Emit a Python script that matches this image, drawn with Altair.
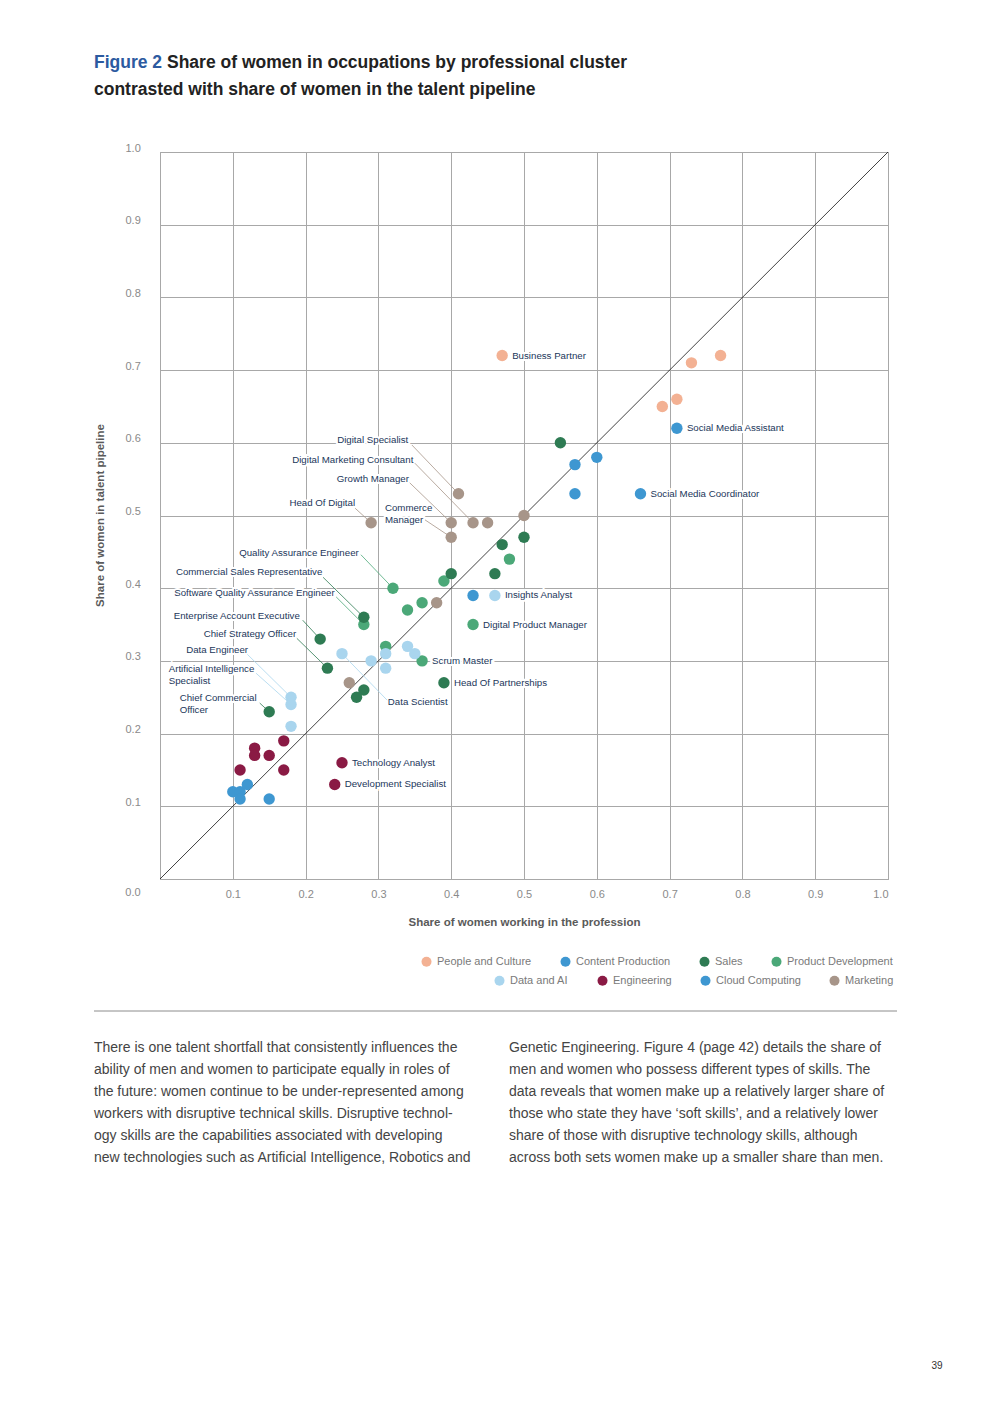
import altair as alt
import pandas as pd

FONT = "Liberation Sans"

# ---------------- data ----------------
clusters_row1 = ["People and Culture", "Content Production", "Sales", "Product Development"]
clusters_row2 = ["Data and AI", "Engineering", "Cloud Computing", "Marketing"]
colors_row1 = ["#F3B193", "#3E97D1", "#2E7B53", "#4BA878"]
colors_row2 = ["#A9D5EE", "#8A1A44", "#3E97D1", "#A79589"]

pc_x = [0.47, 0.73, 0.77, 0.69, 0.71]
pc_y = [0.72, 0.71, 0.72, 0.65, 0.66]
cp_x = [0.71, 0.66, 0.57, 0.60, 0.57]
cp_y = [0.62, 0.53, 0.57, 0.58, 0.53]
sales_x = [0.55, 0.47, 0.50, 0.46, 0.40, 0.28, 0.22, 0.23, 0.15, 0.39, 0.28, 0.27]
sales_y = [0.60, 0.46, 0.47, 0.42, 0.42, 0.36, 0.33, 0.29, 0.23, 0.27, 0.26, 0.25]
pd_x = [0.48, 0.39, 0.32, 0.36, 0.34, 0.28, 0.43, 0.31, 0.36]
pd_y = [0.44, 0.41, 0.40, 0.38, 0.37, 0.35, 0.35, 0.32, 0.30]
dai_x = [0.46, 0.25, 0.29, 0.31, 0.31, 0.34, 0.35, 0.18, 0.18, 0.18]
dai_y = [0.39, 0.31, 0.30, 0.31, 0.29, 0.32, 0.31, 0.25, 0.24, 0.21]
eng_x = [0.17, 0.13, 0.13, 0.15, 0.11, 0.17, 0.25, 0.24]
eng_y = [0.19, 0.18, 0.17, 0.17, 0.15, 0.15, 0.16, 0.13]
cc_x = [0.10, 0.11, 0.11, 0.12, 0.15, 0.43]
cc_y = [0.12, 0.12, 0.11, 0.13, 0.11, 0.39]
mk_x = [0.41, 0.29, 0.40, 0.43, 0.45, 0.40, 0.50, 0.38, 0.26]
mk_y = [0.53, 0.49, 0.49, 0.49, 0.49, 0.47, 0.50, 0.38, 0.27]

# labels placed directly to the right of their point
direct_names = ["Business Partner", "Social Media Assistant", "Social Media Coordinator",
                "Insights Analyst", "Digital Product Manager", "Scrum Master",
                "Head Of Partnerships", "Technology Analyst", "Development Specialist"]
direct_x = [0.47, 0.71, 0.66, 0.46, 0.43, 0.36, 0.39, 0.25, 0.24]
direct_y = [0.72, 0.62, 0.53, 0.39, 0.35, 0.30, 0.27, 0.16, 0.13]

# labels with leader lines
lead_text = ["Digital Specialist", "Digital Marketing Consultant", "Growth Manager",
             "Head Of Digital", "Commerce\nManager", "Quality Assurance Engineer",
             "Commercial Sales Representative", "Software Quality Assurance Engineer",
             "Enterprise Account Executive", "Chief Strategy Officer", "Data Engineer",
             "Artificial Intelligence\nSpecialist", "Chief Commercial\nOfficer", "Data Scientist"]
lead_cluster = ["Marketing", "Marketing", "Marketing", "Marketing", "Marketing",
                "Product Development", "Sales", "Product Development", "Sales", "Sales",
                "Data and AI", "Data and AI", "Sales", "Data and AI"]
lead_align = ["right", "right", "right", "right", "left", "right", "right", "right",
              "right", "right", "right", "left", "left", "left"]
lead_tx = [0.341, 0.348, 0.342, 0.268, 0.309, 0.273, 0.223, 0.240, 0.192, 0.187, 0.121, 0.012, 0.027, 0.313]
lead_ty = [0.604, 0.576, 0.550, 0.517, 0.510, 0.448, 0.422, 0.393, 0.362, 0.337, 0.315, 0.289, 0.249, 0.243]
lead_sx = [0.346, 0.350, 0.343, 0.268, 0.364, 0.276, 0.224, 0.242, 0.196, 0.188, 0.120, 0.132, 0.137, 0.312]
lead_sy = [0.597, 0.572, 0.545, 0.510, 0.494, 0.446, 0.415, 0.388, 0.356, 0.331, 0.309, 0.283, 0.242, 0.246]
lead_px = [0.41, 0.43, 0.40, 0.29, 0.40, 0.32, 0.28, 0.28, 0.22, 0.23, 0.18, 0.18, 0.15, 0.25]
lead_py = [0.53, 0.49, 0.49, 0.49, 0.47, 0.40, 0.36, 0.35, 0.33, 0.29, 0.25, 0.24, 0.23, 0.31]

tick_values = [0.0, 0.1, 0.2, 0.3, 0.4, 0.5, 0.6, 0.7, 0.8, 0.9, 1.0]

title_prefix = "Figure 2"
title_line1 = "Share of women in occupations by professional cluster"
title_line2 = "contrasted with share of women in the talent pipeline"
x_title = "Share of women working in the profession"
y_title = "Share of women in talent pipeline"

body_left = [
    "There is one talent shortfall that consistently influences the",
    "ability of men and women to participate equally in roles of",
    "the future: women continue to be under-represented among",
    "workers with disruptive  technical skills. Disruptive technol-",
    "ogy skills are the capabilities associated with developing",
    "new technologies such as Artificial Intelligence, Robotics and",
]
body_right = [
    "Genetic Engineering. Figure 4 (page 42) details the share of",
    "men and women who possess different types of skills. The",
    "data reveals that women make up a  relatively larger share of",
    "those who state they have \u2018soft skills\u2019, and a relatively lower",
    "share of those with disruptive technology skills, although",
    "across both sets women make up a smaller share than men.",
]
page_number = "39"

# ---------------- tables ----------------
def frame(name, xs, ys):
    return pd.DataFrame({"cluster": name, "x": xs, "y": ys})

df1 = pd.concat([frame("People and Culture", pc_x, pc_y),
                 frame("Content Production", cp_x, cp_y),
                 frame("Product Development", pd_x, pd_y),
                 frame("Sales", sales_x, sales_y)], ignore_index=True)
df2 = pd.concat([frame("Data and AI", dai_x, dai_y),
                 frame("Engineering", eng_x, eng_y),
                 frame("Cloud Computing", cc_x, cc_y),
                 frame("Marketing", mk_x, mk_y)], ignore_index=True)

color_map = dict(zip(clusters_row1 + clusters_row2, colors_row1 + colors_row2))

lead = pd.DataFrame({"label": lead_text, "cluster": lead_cluster, "align": lead_align,
                     "tx": lead_tx, "ty": lead_ty, "sx": lead_sx, "sy": lead_sy,
                     "px": lead_px, "py": lead_py})
lead["col"] = lead["cluster"].map(color_map)
lead_r = lead[lead["align"] == "right"]
lead_l = lead[lead["align"] == "left"]
direct = pd.DataFrame({"label": direct_names, "x": direct_x, "y": direct_y})
diag = pd.DataFrame({"x": [0.0], "y": [0.0], "x2": [1.0], "y2": [1.0]})
origin = pd.DataFrame({"x": [0.0], "y": [0.0], "t": ["0.0"]})

# ---------------- encodings ----------------
GRID = "#A8A8A8"
xscale = alt.Scale(domain=[0, 1], nice=False, zero=True)
yscale = alt.Scale(domain=[0, 1], nice=False, zero=True)

x_axis = alt.Axis(values=tick_values, format=".1f", grid=True, gridColor=GRID, gridWidth=1,
                  ticks=False, domainColor=GRID, labelColor="#8a8a8a", labelFont=FONT,
                  labelFontSize=11, labelPadding=9,
                  labelExpr="datum.value == 0 ? '' : datum.label",
                  title=x_title, titleFont=FONT, titleFontSize=11.5, titleFontWeight="bold",
                  titleColor="#5a5a5a", titleX=364, titleY=43, titleBaseline="middle")
y_axis = alt.Axis(values=tick_values, format=".1f", grid=True, gridColor=GRID, gridWidth=1,
                  ticks=False, domainColor=GRID, labelColor="#8a8a8a", labelFont=FONT,
                  labelFontSize=11, labelPadding=35, labelAlign="left", labelBaseline="middle",
                  labelOffset=-4, labelExpr="datum.value == 0 ? '' : datum.label",
                  title=y_title, titleFont=FONT, titleFontSize=11.5, titleFontWeight="bold",
                  titleColor="#5a5a5a", titleX=-60, titleY=363, titleAngle=270,
                  titleBaseline="middle", titleAlign="center")

X = alt.X("x:Q", scale=xscale, axis=x_axis)
Y = alt.Y("y:Q", scale=yscale, axis=y_axis)


def legend(lx, ly):
    return alt.Legend(title=None, orient="none", legendX=lx, legendY=ly, direction="horizontal",
                      columns=4, columnPadding=28, labelFontSize=11, labelColor="#7a7a7a",
                      labelFont=FONT, symbolSize=100, symbolType="circle", labelOffset=5,
                      padding=0, symbolStrokeWidth=0, symbolOpacity=1)


diag_layer = alt.Chart(diag).mark_rule(color="#111111", strokeWidth=0.8).encode(
    x=X, y=Y, x2="x2:Q", y2="y2:Q")

LBL = dict(fontSize=9.7, font=FONT, baseline="middle", lineBreak="\n", lineHeight=12)
HALO = dict(stroke="white", strokeWidth=4)


def lead_text_layer(df, align, halo):
    kw = dict(LBL, align=align)
    if halo:
        kw.update(HALO)
    else:
        kw.update(color="#1B365A")
    return alt.Chart(df).mark_text(**kw).encode(
        x=alt.X("tx:Q", scale=xscale), y=alt.Y("ty:Q", scale=yscale), text="label:N")


def direct_text_layer(halo):
    kw = dict(LBL, align="left", dx=10)
    if halo:
        kw.update(HALO)
    else:
        kw.update(color="#1B365A")
    return alt.Chart(direct).mark_text(**kw).encode(
        x=alt.X("x:Q", scale=xscale), y=alt.Y("y:Q", scale=yscale), text="label:N")


lines = alt.Chart(lead).mark_rule(strokeWidth=0.8).encode(
    x=alt.X("sx:Q", scale=xscale), y=alt.Y("sy:Q", scale=yscale),
    x2="px:Q", y2="py:Q", color=alt.Color("col:N", scale=None))

pts1 = alt.Chart(df1).mark_circle(size=130, opacity=1).encode(
    x=X, y=Y,
    color=alt.Color("cluster:N", scale=alt.Scale(domain=clusters_row1, range=colors_row1),
                    legend=legend(261, 804)))
pts2 = alt.Chart(df2).mark_circle(size=130, opacity=1).encode(
    x=X, y=Y,
    color=alt.Color("cluster:N", scale=alt.Scale(domain=clusters_row2, range=colors_row2),
                    legend=legend(334, 823)))

zero_lbl = alt.Chart(origin).mark_text(fontSize=11, font=FONT, color="#8a8a8a",
                                       align="center", baseline="middle", dx=-27, dy=14).encode(
    x=alt.X("x:Q", scale=xscale), y=alt.Y("y:Q", scale=yscale), text="t:N")

# page furniture (positions relative to plot origin at page (160,152))
one = pd.DataFrame({"a": [0]})


def page_text(text, x, y, size, color, weight="normal", align="left", baseline="middle",
              line_height=None):
    kw = dict(fontSize=size, font=FONT, color=color, fontWeight=weight, align=align,
              baseline=baseline)
    if line_height is not None:
        kw.update(lineBreak="\n", lineHeight=line_height)
    return alt.Chart(one).mark_text(**kw).encode(
        x=alt.value(x), y=alt.value(y), text=alt.value(text))


t1 = page_text(title_prefix, -66, -89, 17.5, "#2C5AA0", weight="bold")
t2 = page_text(title_line1, 7, -89, 17.5, "#222222", weight="bold")
t3 = page_text(title_line2, -66, -62, 17.5, "#222222", weight="bold")
b1 = page_text("\n".join(body_left), -66, 889, 14, "#444444", baseline="top", line_height=22)
b2 = page_text("\n".join(body_right), 349, 889, 14, "#444444", baseline="top", line_height=22)
pn = page_text(page_number, 777, 1214, 10, "#333333", align="center")
sep = alt.Chart(one).mark_rule(color="#8c8c8c", strokeWidth=1).encode(
    x=alt.value(-66), x2=alt.value(737), y=alt.value(859))

chart = alt.layer(
    diag_layer,
    lead_text_layer(lead_r, "right", True), lead_text_layer(lead_l, "left", True),
    direct_text_layer(True),
    lines, pts1, pts2,
    lead_text_layer(lead_r, "right", False), lead_text_layer(lead_l, "left", False),
    direct_text_layer(False),
    zero_lbl, t1, t2, t3, b1, b2, pn, sep
).resolve_scale(color="independent").properties(
    width=728, height=727,
    padding={"left": 152, "top": 144, "right": 96, "bottom": 505},
    autosize=alt.AutoSizeParams(type="none"),
    background="white",
).configure_view(stroke=GRID, strokeWidth=1)

chart.save("out.html", embed_options={"renderer": "svg", "actions": False})
